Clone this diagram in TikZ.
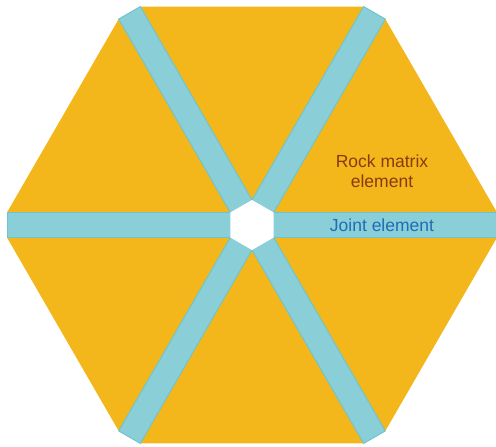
\documentclass[tikz,border=0pt]{standalone}
\usepackage{fontspec}
\setmainfont{Liberation Sans}
\definecolor{rockorange}{HTML}{F3B71B}
\definecolor{jointfill}{HTML}{8ACED8}
\definecolor{jointedge}{HTML}{6CC4D1}
\definecolor{rocktext}{HTML}{8A3A10}
\definecolor{jointtext}{HTML}{1E6EB5}
\begin{document}
\begin{tikzpicture}[x=1pt,y=-1pt,
  rock/.style={fill=rockorange,draw=none},
  strip/.style={fill=jointfill,draw=jointedge,line width=0.9pt},
  hole/.style={fill=white,draw=none},
  lbl/.style={font=\fontsize{17.5}{20}\selectfont,align=center,inner sep=0pt}]
\useasboundingbox (0,0) rectangle (496,447);
% rock matrix (truncated hexagon)
\fill[rock] (140.3,6.6) -- (363.7,6.6) -- (385.3,19.0) -- (497,212.5) -- (497,237.5)
  -- (385.3,431.0) -- (363.7,443.4) -- (140.3,443.4) -- (118.7,431.0)
  -- (7,237.5) -- (7,212.5) -- (118.7,19.0) -- cycle;
% joint strips
\begin{scope}[shift={(252,225)}]
  \foreach \a in {0,60,...,300}
    \draw[strip,rotate=\a] (0,-12.5) rectangle (245,12.5);
  \fill[hole] (30:25) -- (90:25) -- (150:25) -- (210:25) -- (270:25) -- (330:25) -- cycle;
\end{scope}
\node[lbl,text=rocktext] (rocklabel) at (382,171) {Rock matrix\\element};
\node[lbl,text=jointtext] (jointlabel) at (382,225) {Joint element};
\end{tikzpicture}
\end{document}
